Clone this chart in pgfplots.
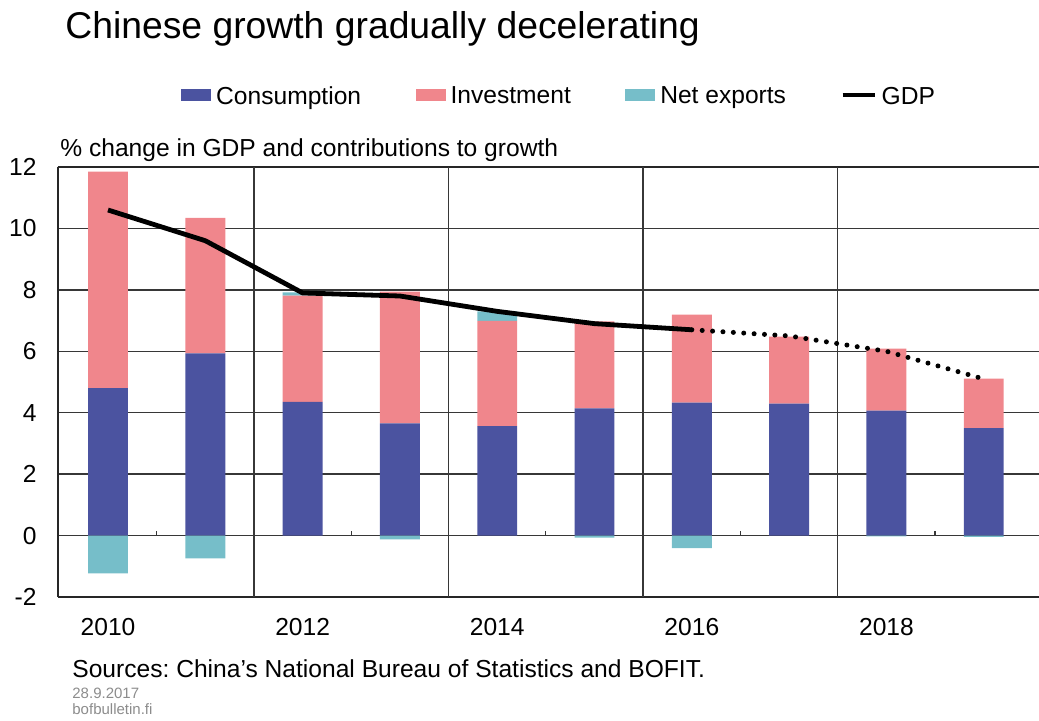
\documentclass[border=0pt]{standalone}
\usepackage{pgfplots}
\pgfplotsset{compat=1.18}
\usepackage{fontspec}
\setmainfont{Liberation Sans}
\frenchspacing

\definecolor{cons}{RGB}{75,83,160}
\definecolor{inv}{RGB}{240,134,140}
\definecolor{nx}{RGB}{118,190,201}
\definecolor{gridc}{RGB}{55,55,55}

\newcommand{\lab}{\fontsize{12.3}{14}\selectfont}

% x = 0 is 2010, ..., x = 9 is 2019
\begin{document}
\begin{tikzpicture}
\useasboundingbox (0,0) rectangle (519.5pt,360pt);

% bars: consumption, investment, positive net exports
\begin{axis}[
    at={(29pt,61.5pt)}, anchor=south west,
    width=490.5pt, height=215pt, scale only axis,
    xmin=-0.514, xmax=9.568,
    ymin=-2, ymax=12,
    ybar stacked, bar width=0.41,
    axis x line*=box, axis y line*=left,
    axis line style={line width=1pt, black!85},
    major tick length=0pt,
    xtick={0,2,4,6,8},
    xticklabels={2010,2012,2014,2016,2018},
    xticklabel pos=lower,
    extra x ticks={1.5,3.5,5.5,7.5},
    extra x tick labels={},
    extra x tick style={grid=major, major tick length=0pt},
    ytick={-2,0,2,4,6,8,10,12},
    ymajorgrids,
    grid style={line width=0.7pt, gridc},
    /pgf/number format/assume math mode=true,
    tick label style={font=\lab},
    xticklabel style={anchor=base, yshift=-19pt, inner sep=0pt},
    yticklabel style={anchor=east, xshift=-10.5pt, inner sep=0pt},
]
\addplot[fill=cons, draw=none] coordinates {
    (0,4.80) (1,5.93) (2,4.35) (3,3.65) (4,3.56)
    (5,4.14) (6,4.33) (7,4.30) (8,4.07) (9,3.50)};
\addplot[fill=inv, draw=none] coordinates {
    (0,7.05) (1,4.41) (2,3.46) (3,4.29) (4,3.43)
    (5,2.83) (6,2.86) (7,2.18) (8,2.02) (9,1.61)};
\addplot[fill=nx, draw=none] coordinates {
    (0,0) (1,0) (2,0.11) (3,0) (4,0.31)
    (5,0) (6,0) (7,0) (8,0) (9,0)};
% small ticks on the zero line
\draw[gridc, line width=0.6pt] (axis cs:0.5,0) -- (axis cs:0.5,0.15);
\draw[gridc, line width=0.6pt] (axis cs:2.5,0) -- (axis cs:2.5,0.15);
\draw[gridc, line width=0.6pt] (axis cs:4.5,0) -- (axis cs:4.5,0.15);
\draw[gridc, line width=0.6pt] (axis cs:6.5,0) -- (axis cs:6.5,0.15);
\draw[gridc, line width=0.6pt] (axis cs:8.5,0) -- (axis cs:8.5,0.15);
\end{axis}

% negative net exports, GDP line, legend
\begin{axis}[
    at={(29pt,61.5pt)}, anchor=south west,
    width=490.5pt, height=215pt, scale only axis,
    xmin=-0.514, xmax=9.568,
    ymin=-2, ymax=12,
    hide axis,
    legend columns=4,
    legend style={at={(0.1254,1.1628)}, anchor=west, draw=none, fill=none,
        inner sep=0pt, font=\lab, nodes={inner sep=0pt},
        /tikz/every odd column/.append style={column sep=2.5pt},
        /tikz/every even column/.append style={column sep=27.3pt}},
]
\addlegendimage{legend image code/.code={\fill[cons] (0pt,-1.5pt) rectangle (14.5pt,4pt);}}
\addlegendentry{Consumption}
\addlegendimage{legend image code/.code={\fill[inv] (0pt,-1.5pt) rectangle (14.5pt,4pt);}}
\addlegendentry{Investment}
\addlegendimage{legend image code/.code={\fill[nx] (0pt,-1.5pt) rectangle (14.5pt,4pt);}}
\addlegendentry{Net exports}
\addlegendimage{legend image code/.code={\draw[black, line width=2pt] (0pt,1.25pt) -- (16pt,1.25pt);}}
\addlegendentry{GDP}

\addplot[ybar, bar width=0.41, bar shift=0pt, fill=nx, draw=none, forget plot] coordinates {
    (0,-1.23) (1,-0.74) (3,-0.12) (5,-0.07)
    (6,-0.41) (8,-0.03) (9,-0.04)};
\addplot[black, line width=2.4pt, line join=round, forget plot] coordinates {
    (0,10.6) (1,9.6) (2,7.9) (3,7.8) (4,7.3) (5,6.9) (6,6.7)};
\addplot[black, line width=2.5pt, line cap=round, dash pattern=on 0pt off 5.2pt, forget plot] coordinates {
    (6,6.7) (7,6.5) (8,6.0) (9,5.1)};
\end{axis}

\node[anchor=base west, inner sep=0pt, font=\fontsize{18.65}{22}\selectfont] at (32.5pt,341pt)
    {Chinese growth gradually decelerating};
\node[anchor=base west, inner sep=0pt, font=\lab] at (30pt,282pt)
    {\% change in GDP and contributions to growth};
\node[anchor=base west, inner sep=0pt, font=\lab] at (36pt,21.5pt)
    {Sources: China’s National Bureau of Statistics and BOFIT.};
\node[anchor=base west, inner sep=0pt, font=\fontsize{7.5}{9}\selectfont, text=black!45] at (36pt,11pt)
    {28.9.2017};
\node[anchor=base west, inner sep=0pt, font=\fontsize{7.5}{9}\selectfont, text=black!45] at (36pt,3pt)
    {bofbulletin.fi};
\end{tikzpicture}
\end{document}
